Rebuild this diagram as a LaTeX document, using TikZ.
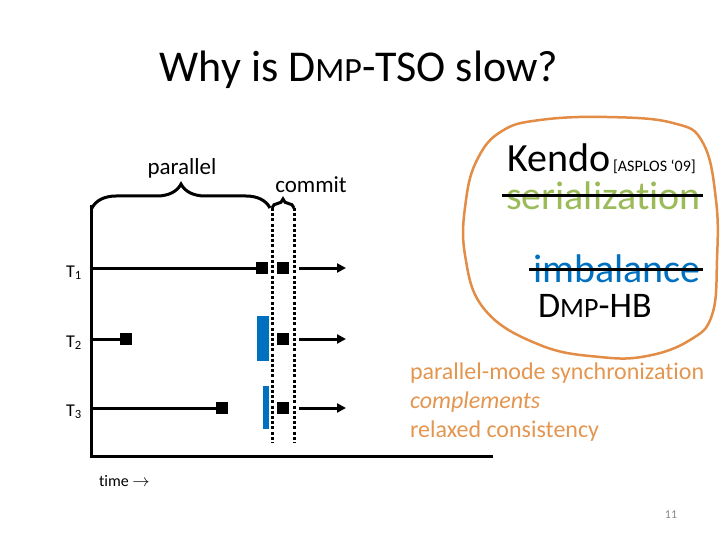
\documentclass[tikz,border=0pt]{standalone}
\usepackage{fontspec}
\setmainfont[Ligatures={NoCommon}]{Carlito}
\usetikzlibrary{decorations.pathreplacing,arrows.meta}
\definecolor{blobor}{RGB}{226,140,70}
\definecolor{txtor}{RGB}{228,150,80}
\definecolor{sergreen}{RGB}{155,187,89}
\definecolor{imbblue}{RGB}{0,112,192}
\definecolor{pgray}{RGB}{137,137,137}
\newcommand{\fsz}[1]{\fontsize{#1}{#1}\selectfont}
\tikzset{
  txt/.style={inner sep=0pt, outer sep=0pt},
  axisline/.style={line width=3pt},
  tline/.style={line width=3pt},
  tarrow/.style={line width=3pt, -{Triangle[length=9pt,width=9pt]}},
  sq/.style={fill=black, minimum size=12pt, inner sep=0pt, outer sep=0pt},
  bluebar/.style={fill=imbblue, draw=none},
  dotline/.style={line width=3pt, dash pattern=on 3pt off 2.2pt},
  bracestyle/.style={line width=3pt, decorate},
  strike/.style={line width=3pt},
}
\begin{document}
\begin{tikzpicture}[x=1pt,y=-1pt]
\useasboundingbox (0,0) rectangle (720,540);
% title
\node[txt, anchor=base] (title) at (359,82) {\fsz{44}Why is D{\fsz{34}MP}-TSO slow?};
% axes
\coordinate (axtop) at (91,205);
\coordinate (axorig) at (91,456);
\coordinate (axright) at (493,456);
\draw[axisline] (axtop) -- (axorig) -- (axright);
% braces
\coordinate (bpl) at (92,208);
\coordinate (bpr) at (270,208);
\coordinate (bcl) at (272,208);
\coordinate (bcr) at (294,208);
\draw[bracestyle, decoration={brace, amplitude=24pt, aspect=0.5}] (bpl) -- (bpr);
\draw[bracestyle, decoration={brace, amplitude=9pt, aspect=0.5}] (bcl) -- (bcr);
\node[txt, anchor=base] (lpar) at (182,175) {\fsz{23}parallel};
\node[txt, anchor=base] (lcom) at (311,193) {\fsz{23}commit};
% dotted commit lines
\coordinate (d1t) at (272,208);
\coordinate (d1b) at (272,443);
\coordinate (d2t) at (294,208);
\coordinate (d2b) at (294,443);
\draw[dotline] (d1t) -- (d1b);
\draw[dotline] (d2t) -- (d2b);
% thread labels
\node[txt, anchor=base west] (t1) at (66,277) {\fsz{18}T\textsubscript{1}};
\node[txt, anchor=base west] (t2) at (66,347) {\fsz{18}T\textsubscript{2}};
\node[txt, anchor=base west] (t3) at (66,416) {\fsz{18}T\textsubscript{3}};
% T1
\coordinate (a1) at (91,268);
\node[sq] (s1a) at (262,268) {};
\node[sq] (s1b) at (283,268) {};
\coordinate (e1s) at (299,268);
\coordinate (e1e) at (346,268);
\draw[tline] (a1) -- (s1a.west);
\draw[tarrow] (e1s) -- (e1e);
% T2
\coordinate (a2) at (91,339);
\node[sq] (s2a) at (126,339) {};
\node[sq] (s2b) at (283,339) {};
\fill[bluebar] (257,316) rectangle (269,361);
\coordinate (e2s) at (299,339);
\coordinate (e2e) at (346,339);
\draw[tline] (a2) -- (s2a.west);
\draw[tarrow] (e2s) -- (e2e);
% T3
\coordinate (a3) at (91,408);
\node[sq] (s3a) at (222,408) {};
\node[sq] (s3b) at (283,408) {};
\fill[bluebar] (263,386) rectangle (269,429);
\coordinate (e3s) at (299,408);
\coordinate (e3e) at (346,408);
\draw[tline] (a3) -- (s3a.west);
\draw[tarrow] (e3s) -- (e3e);
% time
\node[txt, anchor=base west] (time) at (99,486) {\fsz{16}time $\rightarrow$};
% blob
\draw[blobor, line width=2.5pt] plot[smooth cycle, tension=0.7] coordinates {
 (502,131) (540,120) (607,117) (673,123) (703,143) (716,200) (717,260)
 (712,315) (690,340) (647,356) (600,357) (540,345) (485,310) (465,255)
 (466,200) (478,158)};
\node[txt, anchor=base west] (kendo) at (507,172) {\fsz{40}Kendo};
\node[txt, anchor=base west] (asplos) at (613,172) {\fsz{16}[ASPLOS ‘09]};
\node[txt, anchor=base west, text=sergreen] (ser) at (506,210) {\fsz{40}serialization};
\coordinate (s1l) at (502,196);
\coordinate (s1r) at (703,196);
\draw[strike] (s1l) -- (s1r);
\node[txt, anchor=base west, text=imbblue] (imb) at (533,282) {\fsz{40}imbalance};
\coordinate (s2l) at (529,269);
\coordinate (s2r) at (703,269);
\draw[strike] (s2l) -- (s2r);
\node[txt, anchor=base west] (dmphb) at (538,317) {\fsz{36}D{\fsz{28}MP}-HB};
% orange text
\node[txt, anchor=base west, text=txtor] (o1) at (410,379) {\fsz{24}parallel-mode synchronization};
\node[txt, anchor=base west, text=txtor] (o2) at (410,408) {\fsz{24}\itshape complements};
\node[txt, anchor=base west, text=txtor] (o3) at (410,437) {\fsz{24}relaxed consistency};
% page number
\node[txt, anchor=base, text=pgray] (pn) at (671,518) {\fsz{12}11};
\end{tikzpicture}
\end{document}
